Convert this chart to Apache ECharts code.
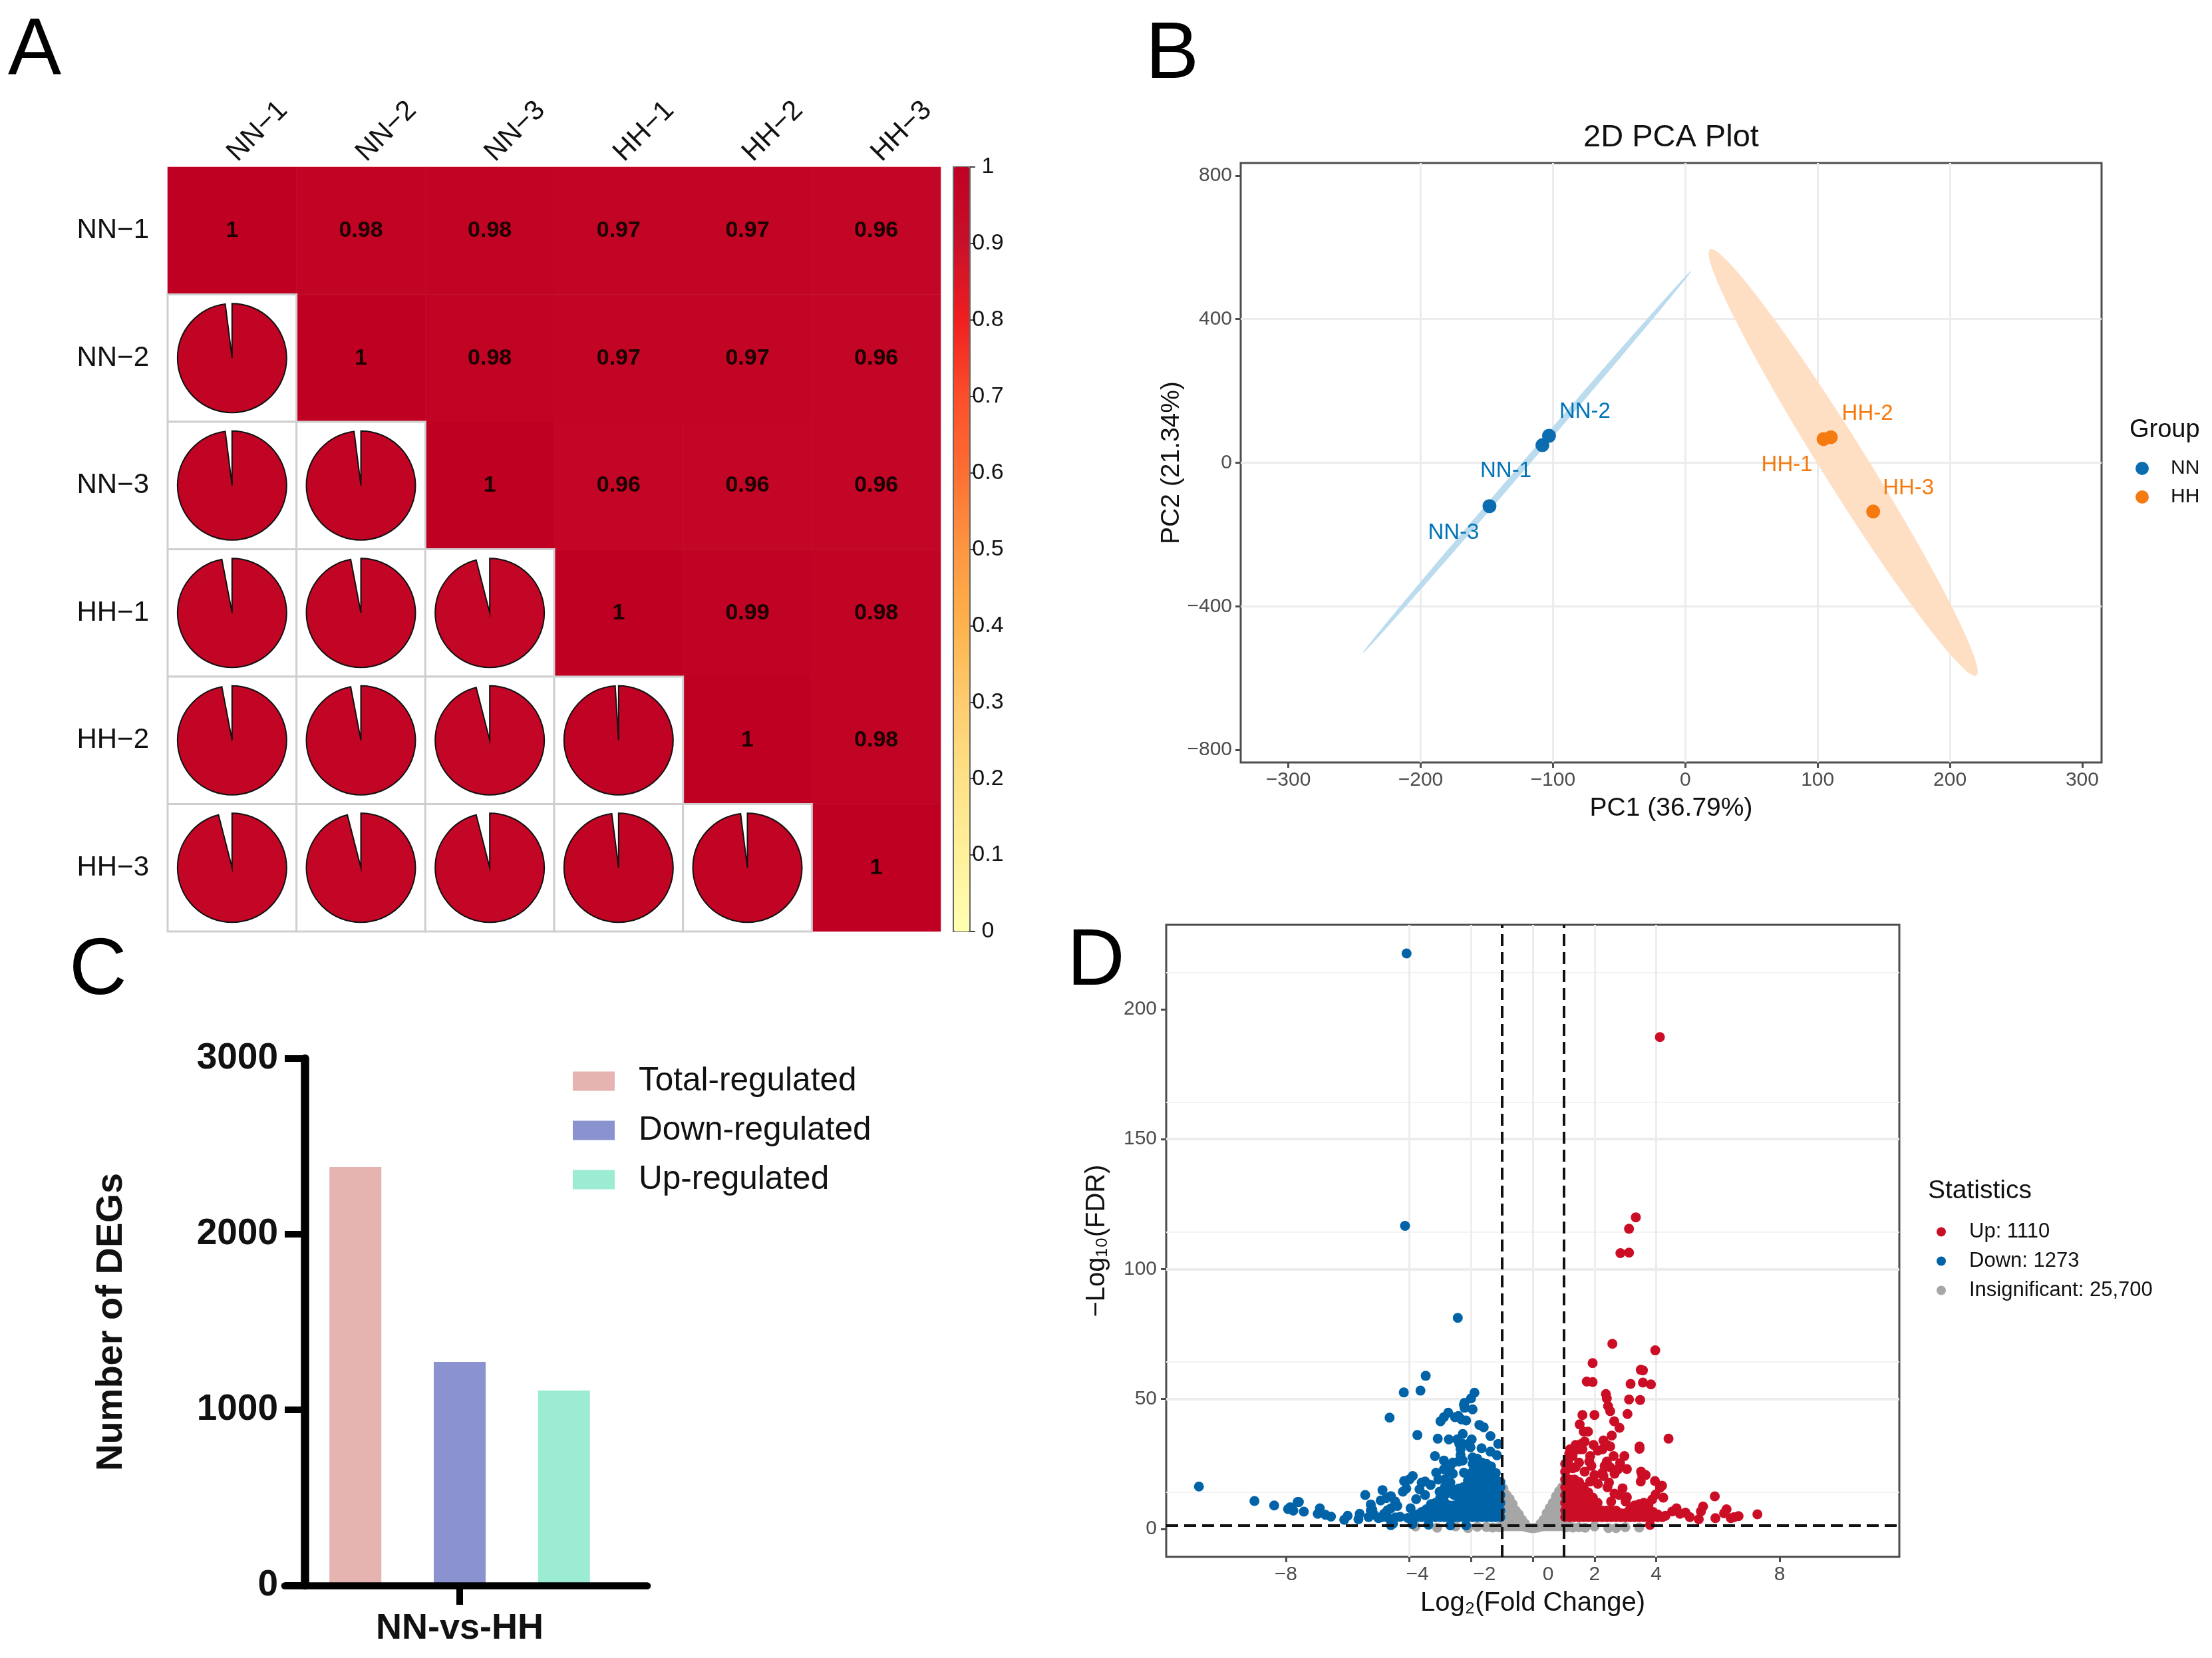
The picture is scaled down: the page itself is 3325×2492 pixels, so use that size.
<!DOCTYPE html>
<html><head><meta charset="utf-8">
<style>html,body{margin:0;padding:0;background:#fff}#c{width:3325px;height:2492px}</style>
<script src="https://cdn.jsdelivr.net/npm/echarts@6/dist/echarts.min.js"></script>
</head><body><div id="c"></div>
<script>
// ---------- Panel A data
const samples = ['NN−1','NN−2','NN−3','HH−1','HH−2','HH−3'];
const corrRows = [
  [1,0.98,0.98,0.97,0.97,0.96],
  [0.98,1,0.98,0.97,0.97,0.96],
  [0.98,0.98,1,0.96,0.96,0.96],
  [0.97,0.97,0.96,1,0.99,0.98],
  [0.97,0.97,0.96,0.99,1,0.98],
  [0.96,0.96,0.96,0.98,0.98,1]
];
const corrRamp = ['#FFFFB2','#FFF09A','#FEE186','#FECC6F','#FEB24C','#FD9640','#FD6F33','#FC4E2A','#F01E20','#C8102A','#BF0023'];
// ---------- Panel B data
const nnPoints = [['NN-1',-108,49],['NN-2',-103,75],['NN-3',-148,-121]];
const hhPoints = [['HH-1',104.5,66],['HH-2',110,71],['HH-3',142,-136]];
// major-axis tip A, tip B, conjugate half-axis
const nnEllipse = [-243.7,-530,4.5,534.6,1.9,-6];
const hhEllipse = [18.6,594.7,220,-593,14.5,33];
const pcaXTicks = [-300,-200,-100,0,100,200,300];
const pcaYTicks = [-800,-400,0,400,800];
// ---------- Panel C data
const degCategory = ['NN-vs-HH'];
const degTotal = [2383];
const degDown = [1273];
const degUp = [1110];
// ---------- Panel D data
const fdrCut = 1.3;
const fcCuts = [-1,1];
const volcanoXTicks = [-8,-4,-2,0,2,4,8];
const volcanoYTicks = [0,50,100,150,200];
const downPoints = [[-4.09,221.5],[-4.14,116.6],[-2.43,81.2],[-3.47,58.9],[-3.64,53.2],[-4.18,52.5],[-10.82,16.3],[-9.02,10.7],[-8.38,9],[-7.62,10.3],[-7.86,8.3],[-7.93,7.6],[-7.76,7],
 [-1.89,52.4],[-2.0,50.2],[-2.21,48.5],[-2.21,46.6],
 [-2.45,34.4],[-2.27,36.5],[-1.98,34.4],[-2.27,32.7],[-2.34,30.6],[-2.09,32.7],[-2.02,31.4],[-2.38,32.7],[-2.34,28.4],[-2.27,26.3],[-1.66,31],[-1.37,29.7],[-1.16,28.3],[-1.12,32.7],[-1.37,35.7],[-1.73,40],[-1.59,39.1],[-1.95,46],[-2.23,47.7],[-2.16,41.7],[-2.31,42.1],[-2.52,43],[-2.41,43.4],[-2.74,44.7],[-2.88,43],[-2.99,41.4],[-3.08,34.7],[-2.72,34.4],[-3.74,36.1],[-4.64,42.8],[-3.17,28],[-2.88,26.3],[-2.59,25.5],[-2.41,25.9],[-2.67,24.2],[-2.88,22.9],[-2.74,22],[-2.59,21.2],[-3.13,21.6],[-3.06,19],[-2.23,21.6],[-2.09,20.3],[-3.49,18.2],[-3.31,16.9],[-3.6,17.8],[-3.67,15.2],[-3.49,13],[-3.89,20.3],[-4,19],[-4.17,18.4],[-4.21,14.3],[-4.1,15.5],[-4.87,14.9],[-5.43,13],[-4.6,12.6],[-4.75,11.8],[-4.93,10.9],[-5.25,9.4],[-4.46,10.5],[-4.39,8.8],[-3.78,11.4],[-3.96,7.9],[-4.71,7.1],[-4.6,7.9],[-4.82,5.8],[-5.25,7.1],[-5.14,5.4],[-5.32,4.5],[-5,4.1],[-5.61,5.8],[-5.65,3.7],[-6,5],[-6.11,3.5],[-6.9,7.9],[-6.97,5.8],[-6.72,5.4],[-6.54,4.7],[-7.42,6.6],[-7.58,10.3],[-4.53,2],[-3.02,14.3],[-2.67,17.8],[-2.85,19],
 [-3.38,1.6],[-2.67,1.3],[-2.16,1.3],[-4.6,1.4],[-3.9,1.8],[-4.45,4.4],[-4.3,4.6],[-4.9,4.5],[-5.2,7.4],[-4.7,4.3]];
const downDense = [
 [-1.05,[4.5,7,10,13,16,18]],[-1.2,[4.5,7,10,13,16,19,21.5]],[-1.35,[4.5,7,10,13,16,19,22,24]],[-1.5,[4.5,7,10,13,16,19,22,25]],[-1.65,[4.5,7,10,13,16,19,22,25.5]],[-1.8,[4.5,7,10,13,16,19,22,25,27]],[-1.95,[4.5,7,10,13,16,19,22,25,27.5]],[-2.1,[4.5,7,10,13,16,18.5]],[-2.25,[4.5,7,10,13,16]],[-2.4,[4.5,7,10,13,15.5]],[-2.55,[4.5,7,9,13,15]],[-2.7,[4.5,7,9,14]],[-2.85,[4.5,7,10,13,16]],[-3.0,[4.5,7,10,12]],[-3.15,[4.5,7,10]],[-3.3,[4.5,7,9.5]],[-3.45,[4.5,7.5]],[-3.6,[4.5,6.5]],[-3.75,[4.5,5.5]],[-3.9,[4.5]],[-4.05,[4.2]]];
const upPoints = [[4.12,189.3],[3.34,119.9],[3.12,115.5],[2.84,106.1],[3.12,106.3],[2.58,71.2],[3.97,68.7],[1.94,63.8],[3.5,61.2],[3.57,61],[1.75,56.7],[1.94,56.5],[3.17,55.8],[3.57,56.3],[3.83,55.6],[2.37,51.9],
 [1.61,43.8],[2.0,43.8],[2.4,50.2],[2.44,47.2],[2.51,45.3],[3.12,49.8],[3.48,49.6],[3.07,44.2],[1.52,40.2],[2.64,41.4],[2.81,38.9],[1.65,37.4],[1.79,37.4],[2.56,35.9],[4.4,34.7],[3.46,31.7],[3.46,30.8],
 [1.21,30.6],[1.39,32.3],[1.57,32.7],[1.68,33.6],[1.5,30.6],[1.32,29.7],[1.61,30.6],[1.18,28.9],[1.29,28],[1.97,32.3],[2.11,30.1],[2.29,34],[2.4,32.3],[2.51,31.7],[2.26,30.6],[2.62,28],[2.97,28],[1.86,28],[1.83,25.9],[1.9,24.2],[2.83,25.3],[3.05,23],[2.4,25.9],[2.33,24.2],[2.51,23.7],[2.26,21.6],[2.29,20.3],[2.65,21.2],[2.76,22.9],[1.5,25.5],[1.39,23.7],[1.68,22],[1.14,25.9],[1.29,23.3],[2,20.7],
 [3.51,22],[3.66,20.7],[3.55,20.3],[3.5,18.2],[3.96,18.4],[4.19,16.6],[4.12,15.8],[2.91,15.6],[2.47,17.8],[2.42,16],[1.86,18.2],[2.11,17.3],[3.98,13.2],[4.23,12],[2.65,13.5],[3.05,12.2],[2.8,13],[3.01,10.5],[3.87,11.3],[2.54,10.5],
 [5.9,12.5],[5.52,8.6],[5.45,6.7],[6.28,7.5],[6.2,6],[5.92,4.1],[7.28,5.6],[6.67,4.9],[6.53,4.5],[6.42,4.1],[4.66,7.9],[4.52,6.7],[4.3,5],[4.77,5.8],[4.95,6.2],[5.09,4.5],[5.38,3.7],[3.8,1.5]];
const upDense = [
 [1.05,[4.5,7,10,13,16,19,22,25]],[1.2,[4.5,7,10,13,16,19]],[1.35,[4.5,7,10,13,16,19]],[1.5,[4.5,7,10,13,16,18]],[1.65,[4.5,7,10,13,16]],[1.8,[4.5,7,10,13,14]],[1.95,[4.5,7,10,12]],[2.1,[4.5,7,10]],[2.25,[4.5,7]],[2.4,[4.5,7]],[2.55,[4.5,7]],[2.7,[4.5,7]],[2.85,[4.5,6]],[3.0,[4.5,6]],[3.15,[4.5,7.5]],[3.3,[4.5,7,9]],[3.45,[4.5,7,9.5]],[3.6,[4.5,7,10]],[3.75,[4.5,7,9]],[3.9,[4.5,6.5]],[4.05,[4.5,5.5]],[4.2,[4.5]]];
const grayColumns = [
 [-0.95,[1,4,7,10,13,15.5]],[-0.85,[1,4,7,10,13]],[-0.75,[1,4,7,10,11.5]],[-0.65,[1,4,7,9.5]],[-0.55,[1,4,7]],[-0.45,[1,3,5.5]],[-0.35,[1,3.5]],[-0.25,[0.8,2]],[-0.15,[0.5]],[-0.05,[0.3]],
 [0.05,[0.3]],[0.15,[0.5]],[0.25,[0.8,2]],[0.35,[1,3.5]],[0.45,[1,3,6]],[0.55,[1,4,8]],[0.65,[1,4,7,10]],[0.75,[1,4,7,10,12.5]],[0.85,[1,4,7,10,13,14.5]],[0.95,[1,4,7,10,13,16]]];
const grayPoints = [[-3.1,0.4],[-2.1,0.3],[-1.3,0.5],[-1.1,0.6],[-1.5,0.7],[-1.8,0.8],[-2.5,0.9],[-3.8,0.9],[1.1,0.6],[1.3,0.5],[1.5,0.6],[1.7,0.4],[2.45,0.3],[2.7,0.3],[3,0.6],[3.45,0.5],[1.2,0.9],[2,0.9]];

// ---------- build
const heatData=[], pieData=[];
corrRows.forEach((row,r)=>row.forEach((v,c)=>{ (c>=r?heatData:pieData).push([c,r,v]); }));
const unfold = cols => cols.flatMap(([x,ys])=>ys.map(y=>[x,y]));
const mn = v => String(v).replace('-','−');
const FONT='"Liberation Sans",Arial,sans-serif';
const GREY='#4d4d4d', GRID='#ececec';
const labelOffset={'NN-1':[-55,39],'NN-2':[54,-36],'NN-3':[-54,40],'HH-1':[-55,39],'HH-2':[55,-35],'HH-3':[53,-35]};
const toScatter=pts=>pts.map(p=>({name:p[0],value:[p[1],p[2]],label:{offset:labelOffset[p[0]]}}));

function ellipseItem(params,api){
  const a=[api.value(0),api.value(1)],b=[api.value(2),api.value(3)],s=[api.value(4),api.value(5)];
  const c=[(a[0]+b[0])/2,(a[1]+b[1])/2],u=[(b[0]-a[0])/2,(b[1]-a[1])/2];
  const pts=[];
  for(let i=0;i<96;i++){const t=i/96*2*Math.PI;
    pts.push(api.coord([c[0]+Math.cos(t)*u[0]+Math.sin(t)*s[0],c[1]+Math.cos(t)*u[1]+Math.sin(t)*s[1]]));}
  return {type:'polygon',shape:{points:pts},style:{fill:api.visual('color')}};
}
function pieItem(params,api){
  const p=api.coord([api.value(0),api.value(1)]),sz=api.size([1,1]),v=api.value(2);
  return {type:'group',children:[
    {type:'rect',shape:{x:p[0]-sz[0]/2,y:p[1]-sz[1]/2,width:sz[0],height:sz[1]},style:{fill:'#fff',stroke:'#cfcfcf',lineWidth:3}},
    {type:'sector',shape:{cx:p[0],cy:p[1],r:82,r0:0,startAngle:-Math.PI/2,endAngle:-Math.PI/2+2*Math.PI*v,clockwise:true},
     style:{fill:api.visual('color'),stroke:'#111',lineWidth:2}}
  ]};
}
const letter=(t,l,tp)=>({text:t,left:l,top:tp,padding:0,textStyle:{fontFamily:FONT,fontSize:120,fontWeight:'normal',color:'#000'}});
const heading=(t,l,tp,fs)=>({text:t,left:l,top:tp,padding:0,textStyle:{fontFamily:FONT,fontSize:fs,fontWeight:'normal',color:'#111'}});

const option={
 animation:false,backgroundColor:'#fff',
 textStyle:{fontFamily:FONT},
 title:[letter('A',12,18),letter('B',1722,24),letter('C',104,1401),letter('D',1604,1387),
   heading('2D PCA Plot',2380,184,47),heading('Group',3201,628,38),heading('Statistics',2898,1771,39)],
 grid:[
  {left:252,top:251,width:1162,height:1149},
  {left:1433,top:251,width:25,height:1149,show:true,backgroundColor:'transparent',borderColor:'#666',borderWidth:2},
  {left:1865,top:245,width:1294,height:901,show:true,backgroundColor:'#fff',borderColor:GREY,borderWidth:3},
  {left:458,top:1591,width:466,height:792},
  {left:428,top:1591,width:545,height:792},
  {left:1753,top:1390,width:1102,height:950,show:true,backgroundColor:'#fff',borderColor:GREY,borderWidth:3}
 ],
 xAxis:[
  {gridIndex:0,type:'category',data:samples,position:'top',axisLine:{show:false},axisTick:{show:false},
   axisLabel:{rotate:-45,fontSize:42,color:'#111',margin:15,interval:0}},
  {gridIndex:1,type:'category',data:[''],show:false},
  {gridIndex:2,type:'value',min:-336,max:314.6,interval:100,
   axisLine:{show:false,onZero:false},axisTick:{show:true,customValues:pcaXTicks,length:8,lineStyle:{color:GREY,width:3}},
   axisLabel:{customValues:pcaXTicks,fontSize:30,color:GREY,margin:12,formatter:mn},
   splitLine:{show:true,showMinLine:false,showMaxLine:false,lineStyle:{color:GRID,width:3}},
   name:'PC1 (36.79%)',nameLocation:'middle',nameGap:50,nameTextStyle:{fontSize:39,color:'#111'}},
  {gridIndex:3,type:'category',data:degCategory,z:4,axisLine:{show:false},
   axisTick:{show:true,alignWithLabel:true,length:29,lineStyle:{color:'#000',width:10}},
   axisLabel:{fontSize:54,fontWeight:'bold',color:'#111',margin:38}},
  {gridIndex:4,type:'value',min:0,max:1,z:4,axisLine:{show:true,onZero:false,lineStyle:{color:'#000',width:10.5}},axisTick:{show:false},axisLabel:{show:false},splitLine:{show:false}},
  {gridIndex:5,type:'value',min:-11.88,max:11.88,interval:4,
   axisLine:{show:false,onZero:false},axisTick:{show:true,customValues:volcanoXTicks,length:8,lineStyle:{color:GREY,width:3}},
   axisLabel:{customValues:volcanoXTicks,fontSize:30,color:GREY,margin:12,
     formatter:v=>{const t=mn(v);return v===-4?'{a|'+t+'}':v===-2?'{b|'+t+'}':v===0?'{c|'+t+'}':t;},
     rich:{a:{padding:[0,0,0,24],fontSize:30,color:GREY},b:{padding:[0,0,0,40],fontSize:30,color:GREY},c:{padding:[0,0,0,46],fontSize:30,color:GREY}}},
   splitLine:{show:true,showMinLine:false,showMaxLine:false,lineStyle:{color:GRID,width:3}},
   name:'Log₂(Fold Change)',nameLocation:'middle',nameGap:50,nameTextStyle:{fontSize:40,color:'#111'}}
 ],
 yAxis:[
  {gridIndex:0,type:'category',data:samples,inverse:true,axisLine:{show:false},axisTick:{show:false},
   axisLabel:{fontSize:42,color:'#111',margin:28,interval:0}},
  {gridIndex:1,type:'value',position:'right',min:0,max:1,interval:0.1,
   axisLine:{show:true,onZero:false,lineStyle:{color:'#666',width:2}},axisTick:{show:true,length:8,lineStyle:{color:'#444',width:2}},
   axisLabel:{fontSize:34,color:'#111',margin:27,align:'center'},splitLine:{show:false}},
  {gridIndex:2,type:'value',min:-835,max:835,interval:400,
   axisLine:{show:false,onZero:false},axisTick:{show:true,customValues:pcaYTicks,length:8,lineStyle:{color:GREY,width:3}},
   axisLabel:{customValues:pcaYTicks,fontSize:30,color:GREY,margin:13,formatter:mn},
   splitLine:{show:true,showMinLine:false,showMaxLine:false,lineStyle:{color:GRID,width:3}},
   name:'PC2 (21.34%)',nameLocation:'middle',nameGap:82,nameTextStyle:{fontSize:39,color:'#111'}},
  {gridIndex:3,type:'value',min:0,max:3000,interval:1000,z:4,
   axisLine:{show:true,onZero:false,lineStyle:{color:'#000',width:12.5}},axisTick:{show:true,length:30,lineStyle:{color:'#000',width:10}},
   axisLabel:{fontSize:55,fontWeight:'bold',color:'#111',margin:40,formatter:v=>String(v)},splitLine:{show:false},
   name:'Number of DEGs',nameLocation:'middle',nameGap:262,nameTextStyle:{fontSize:56,fontWeight:'bold',color:'#111'}},
  {gridIndex:4,type:'value',min:0,max:1,show:false},
  {gridIndex:5,type:'value',min:-10.8,max:232.5,interval:50,minorSplitLine:{show:true,lineStyle:{color:'#f3f3f3',width:2}},
   minorTick:{show:false,splitNumber:2},
   axisLine:{show:false,onZero:false},axisTick:{show:true,customValues:volcanoYTicks,length:8,lineStyle:{color:GREY,width:3}},
   axisLabel:{customValues:volcanoYTicks,fontSize:30,color:GREY,margin:14,formatter:mn},
   splitLine:{show:true,showMinLine:false,showMaxLine:false,lineStyle:{color:GRID,width:4}},
   name:'−Log₁₀(FDR)',nameLocation:'middle',nameGap:84,nameTextStyle:{fontSize:40,color:'#111'}}
 ],
 visualMap:[{type:'continuous',show:true,seriesIndex:[0,1],dimension:2,min:0,max:1,calculable:false,hoverLink:false,realtime:false,
   left:1434,top:251,itemWidth:23,itemHeight:1149,padding:0,text:null,showLabel:false,inRange:{color:corrRamp},textStyle:{fontSize:1,color:'transparent'}}],
 legend:[
  {data:['NN','HH'],orient:'vertical',left:3210,top:689,itemWidth:20,itemHeight:20,itemGap:13,icon:'circle',padding:0,textStyle:{fontSize:30,color:'#111',fontFamily:FONT,padding:[0,0,0,28]},selectedMode:false},
  {data:['Total-regulated','Down-regulated','Up-regulated'],orient:'vertical',left:861,top:1600,itemWidth:63,itemHeight:29,itemGap:24,icon:'rect',padding:0,textStyle:{fontSize:49.5,color:'#111',fontFamily:FONT,padding:[0,0,0,31]},selectedMode:false},
  {data:['Up: 1110','Down: 1273','Insignificant: 25,700'],orient:'vertical',left:2911,top:1836,itemWidth:14,itemHeight:14,itemGap:13,icon:'circle',padding:0,textStyle:{fontSize:31,color:'#111',fontFamily:FONT,padding:[0,0,0,30]},selectedMode:false}
 ],
 series:[
  {type:'heatmap',xAxisIndex:0,yAxisIndex:0,data:heatData,silent:true,
   label:{show:true,fontSize:34,fontWeight:'bold',color:'#1a0000',formatter:p=>String(p.value[2])},itemStyle:{borderWidth:0}},
  {type:'custom',xAxisIndex:0,yAxisIndex:0,data:pieData,silent:true,renderItem:pieItem,encode:{x:0,y:1}},
  {type:'custom',name:'nnEllipse',xAxisIndex:2,yAxisIndex:2,data:[nnEllipse],silent:true,renderItem:ellipseItem,itemStyle:{color:'#BBDBEF'},encode:{x:[0,2],y:[1,3]}},
  {type:'custom',name:'hhEllipse',xAxisIndex:2,yAxisIndex:2,data:[hhEllipse],silent:true,renderItem:ellipseItem,itemStyle:{color:'#FFDFC4'},encode:{x:[0,2],y:[1,3]}},
  {type:'scatter',name:'NN',xAxisIndex:2,yAxisIndex:2,data:toScatter(nnPoints),symbolSize:21,itemStyle:{color:'#0B6DB0',opacity:1},
   label:{show:true,position:'inside',formatter:'{b}',fontSize:33,color:'#0073B7'}},
  {type:'scatter',name:'HH',xAxisIndex:2,yAxisIndex:2,data:toScatter(hhPoints),symbolSize:21,itemStyle:{color:'#F57A10',opacity:1},
   label:{show:true,position:'inside',formatter:'{b}',fontSize:33,color:'#F57A10'}},
  {type:'bar',name:'Total-regulated',xAxisIndex:3,yAxisIndex:3,data:degTotal,barWidth:78,barGap:'101%',itemStyle:{color:'#E5B3B0'}},
  {type:'bar',name:'Down-regulated',xAxisIndex:3,yAxisIndex:3,data:degDown,barWidth:78,barGap:'101%',itemStyle:{color:'#8A92D0'}},
  {type:'bar',name:'Up-regulated',xAxisIndex:3,yAxisIndex:3,data:degUp,barWidth:78,barGap:'101%',itemStyle:{color:'#9CEBD3'}},
  {type:'scatter',name:'Insignificant: 25,700',xAxisIndex:5,yAxisIndex:5,data:unfold(grayColumns).concat(grayPoints),symbolSize:15,z:2,itemStyle:{color:'#A6A6A6',opacity:1},
   markLine:{silent:true,symbol:'none',label:{show:false},lineStyle:{color:'#f0f0f0',width:2,type:'solid'},data:[{xAxis:-2},{xAxis:2}],z:1}},
  {type:'scatter',name:'Down: 1273',xAxisIndex:5,yAxisIndex:5,data:downPoints.concat(unfold(downDense)),symbolSize:15,z:3,itemStyle:{color:'#0063A8',opacity:1}},
  {type:'scatter',name:'Up: 1110',xAxisIndex:5,yAxisIndex:5,data:upPoints.concat(unfold(upDense)),symbolSize:15,z:3,itemStyle:{color:'#CB0E25',opacity:1}},
  {type:'scatter',name:'thresholds',xAxisIndex:5,yAxisIndex:5,data:[],z:6,
   markLine:{silent:true,symbol:'none',label:{show:false},lineStyle:{color:'#111',width:4,type:[18,9]},data:[{yAxis:fdrCut}].concat(fcCuts.map(v=>({xAxis:v})))}}
 ]
};
echarts.init(document.getElementById('c'),null,{renderer:'canvas',devicePixelRatio:1}).setOption(option);
</script></body></html>
